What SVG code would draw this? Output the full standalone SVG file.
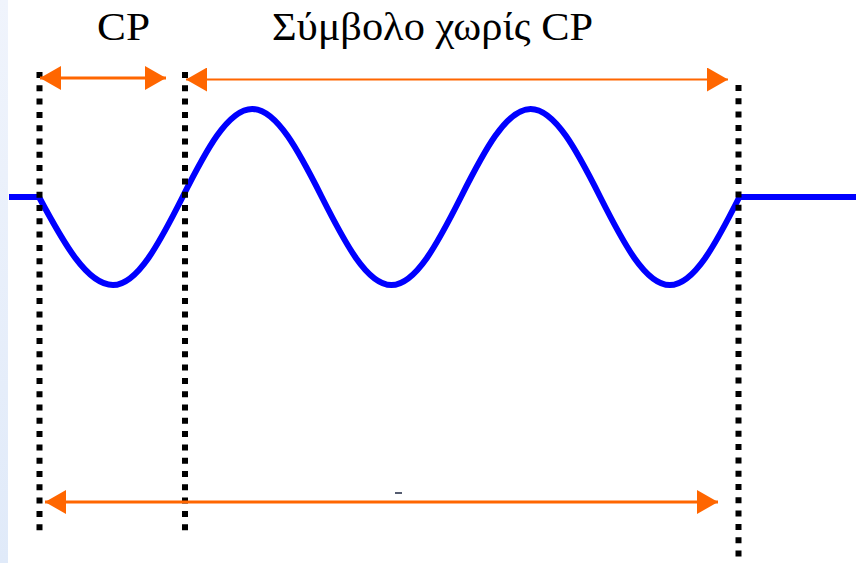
<svg xmlns="http://www.w3.org/2000/svg" width="856" height="563" viewBox="0 0 856 563">
  <style>
    .lbl { font-family: "Liberation Serif", "Times New Roman", serif; font-size: 40px; fill: #000; }
    .dot { stroke: #000; stroke-width: 6; stroke-dasharray: 6 7.3; fill: none; }
    .wave { stroke: #0000ff; stroke-width: 6; fill: none; stroke-linejoin: round; }
    .arr { stroke: #ff6600; fill: none; }
  </style>
  <defs>
    <linearGradient id="strip" x1="0" y1="0" x2="0" y2="1">
      <stop offset="0" stop-color="#f0f4fc"/>
      <stop offset="1" stop-color="#e0eaf9"/>
    </linearGradient>
    <marker id="head" viewBox="0 0 21 24" refX="21" refY="12" markerWidth="21" markerHeight="24" markerUnits="userSpaceOnUse" orient="auto-start-reverse">
      <path d="M0,0 L21,12 L0,24 Z" fill="#ff6600"/>
    </marker>
  </defs>
  <rect x="0" y="0" width="856" height="563" fill="#ffffff"/>
  <rect x="0" y="0" width="8" height="563" fill="url(#strip)"/>

  <g id="labels">
    <text id="label-cp" class="lbl" x="97" y="40" textLength="53" lengthAdjust="spacingAndGlyphs">CP</text>
    <text id="label-symbol" class="lbl" x="272" y="40" textLength="321" lengthAdjust="spacingAndGlyphs">Σύμβολο χωρίς CP</text>
  </g>

  <g id="signal">
    <path class="wave" d="M 9 197 H 39 C 63.13 242.07 86.98 285 113 285 C 137.47 285 159.9 242.07 182.6 197 C 205.3 151.93 227.73 109 252.2 109 C 276.67 109 299.1 151.93 321.8 197 C 344.5 242.07 366.93 285 391.4 285 C 415.87 285 438.3 242.07 461 197 C 483.7 151.93 506.13 109 530.6 109 C 555.07 109 577.5 151.93 600.2 197 C 622.9 242.07 645.33 285 669.8 285 C 694.27 285 716.7 242.07 739.4 197 H 856"/>
  </g>

  <g id="boundaries">
    <line id="bound-left" class="dot" x1="39.5" y1="72" x2="39.5" y2="533"/>
    <line id="bound-mid" class="dot" x1="185" y1="72" x2="185" y2="533"/>
    <line id="bound-right" class="dot" x1="738.5" y1="85" x2="738.5" y2="560"/>
  </g>

  <g id="connectors">
    <line id="arrow-cp" class="arr" stroke-width="3" x1="40" y1="78" x2="166" y2="78" marker-start="url(#head)" marker-end="url(#head)"/>
    <line id="arrow-symbol" class="arr" stroke="#ff8a3d" stroke-width="2.2" x1="186" y1="79.5" x2="728" y2="79.5" marker-start="url(#head)" marker-end="url(#head)"/>
    <line id="arrow-total" class="arr" stroke-width="3" x1="45" y1="502" x2="718" y2="502" marker-start="url(#head)" marker-end="url(#head)"/>
  </g>

  <rect x="395" y="492" width="7" height="2" fill="#555c70"/>
</svg>
